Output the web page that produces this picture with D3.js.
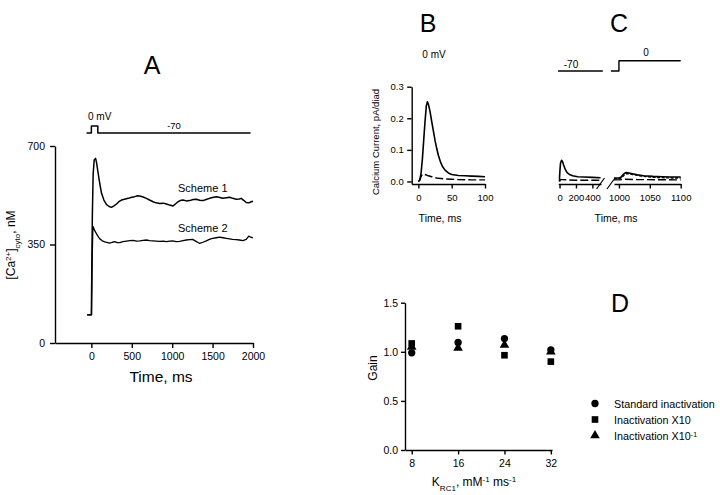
<!DOCTYPE html>
<html><head><meta charset="utf-8">
<script src="https://cdn.jsdelivr.net/npm/d3@7"></script>
<style>
body{margin:0;background:#fff}
svg{display:block}
text{font-family:"Liberation Sans",Arial,Helvetica,sans-serif;fill:#000}
</style>
</head><body><svg id="c" width="720" height="495"></svg>
<script>
// ---------- Panel A data ----------
const aTicksX = [0, 500, 1000, 1500, 2000];
const aTicksY = [0, 350, 700];
const scheme1Time = [-52,0,5,12,22,35,52,65,84,105,126,155,188,220,249,280,311,340,373,410,455,500,537,570,599,640,681,720,763,800,846,890,928,970,1010,1040,1072,1100,1133,1175,1216,1260,1299,1340,1380,1420,1463,1500,1546,1590,1627,1670,1710,1750,1793,1830,1854,1885,1916,1950,1978,2000];
const scheme1 = [100,100,250,450,600,650,656,640,603,565,532,508,492,485,482,487,494,502,508,511,514,518,520,523,522,519,514,508,502,498,496,497,494,490,487,494,502,506,508,505,506,510,511,507,506,510,514,517,520,517,514,516,518,514,511,512,514,507,499,498,502,504];
const scheme2Time = [-52,2,10,18,22,40,64,85,105,135,167,200,228,260,290,320,352,390,435,475,517,560,599,640,681,720,759,800,846,890,928,970,1006,1050,1093,1135,1175,1215,1253,1290,1320,1340,1380,1422,1460,1500,1545,1586,1630,1669,1710,1747,1790,1833,1875,1916,1948,1970,1998];
const scheme2 = [100,100,300,400,413,400,388,378,370,363,359,357,355,358,360,357,357,360,362,364,365,362,363,365,366,364,363,362,361,362,360,362,363,360,361,364,366,367,368,362,357,354,358,363,368,372,374,376,374,372,370,368,367,366,364,368,380,376,374];
const aVoltTime = [-60, 0, 0, 80, 80, 1970];
const aVolt = [-70, -70, 0, 0, -70, -70];

// ---------- Panel B data ----------
const bTicksX = [0, 50, 100];
const bTicksY = [0.0, 0.1, 0.2, 0.3];
const bTime = [0,2,4,6,8,10,12,13.5,15,17.5,20,22.5,25,27.5,30,33,36,40,45,50,60,70,80,90,100];
const bSolid = [0,0.005,0.025,0.07,0.13,0.19,0.24,0.252,0.245,0.222,0.19,0.16,0.13,0.105,0.083,0.063,0.048,0.036,0.027,0.022,0.019,0.018,0.017,0.016,0.015];
const bDashTime = [0,2,4,6,7.5,10,15,20,25,30,40,50,60,80,100];
const bDashed = [0,0.003,0.015,0.022,0.024,0.022,0.018,0.015,0.012,0.010,0.008,0.007,0.006,0.005,0.005];

// ---------- Panel C data ----------
const cTicksLeft = [0, 200, 400];
const cTicksRight = [1000, 1050, 1100];
const cLeftTime = [0,0,5,12,25,35,50,70,90,120,160,220,300,400,500];
const cLeftSolid = [0,0.01,0.035,0.058,0.067,0.064,0.052,0.038,0.029,0.022,0.018,0.015,0.014,0.013,0.012];
const cLeftDashTime = [0,10,30,100,200,500];
const cLeftDashed = [0,0.006,0.006,0.005,0.004,0.004];
const cRightTime = [992,1000,1003,1006,1009,1012,1016,1022,1030,1040,1055,1070,1085,1100];
const cRightSolid = [0.011,0.011,0.013,0.020,0.026,0.028,0.027,0.024,0.021,0.018,0.016,0.015,0.014,0.014];
const cRightSolid2 = [0.009,0.009,0.010,0.015,0.021,0.024,0.024,0.022,0.019,0.016,0.013,0.012,0.011,0.011];
const cRightDashTime = [992,1000,1010,1030,1100];
const cRightDashed = [0.005,0.005,0.007,0.006,0.005];
const cVoltLeftTime = [-18, 527];
const cVoltLeft = [-70, -70];
const cVoltRightTime = [987, 1000, 1000, 1100];
const cVoltRight = [-70, -70, 0, 0];

// ---------- Panel D data ----------
const dK = [8, 16, 24, 32];
const dTicksY = [0.0, 0.5, 1.0, 1.5];
const dStandard = [0.99, 1.095, 1.135, 1.02];
const dX10 = [1.085, 1.26, 0.965, 0.90];
const dX10inv = [1.05, 1.04, 1.07, 1.0];
const dLegend = ["Standard inactivation", "Inactivation X10", "Inactivation X10"];

const svg = d3.select("#c");
const FONT = '"Liberation Sans",Arial,Helvetica,sans-serif';
const fmtInt = d3.format("d");

function styleAxis(g, fs) {
  g.selectAll("path,line").attr("stroke", "#000").attr("stroke-width", 1.4);
  g.selectAll("text").attr("font-size", fs).attr("font-family", FONT).attr("fill", "#000");
}
function lineOf(x, y, ts, vs) {
  return d3.line().x(i => x(ts[i])).y(i => y(vs[i]))(d3.range(ts.length));
}
function path(d, dash, w) {
  const p = svg.append("path").attr("d", d).attr("fill", "none").attr("stroke", "#000")
    .attr("stroke-width", w || 1.5).attr("stroke-linejoin", "round");
  if (dash) p.attr("stroke-dasharray", dash);
  return p;
}

// ================= Panel A =================
const ax = d3.scaleLinear().domain([-450, 2000]).range([55, 253]);
const ay = d3.scaleLinear().domain([0, 700]).range([343, 146]);
svg.append("g").attr("transform", "translate(0,343)")
  .call(d3.axisBottom(ax).tickValues(aTicksX).tickFormat(fmtInt).tickSize(5).tickSizeOuter(0).tickPadding(5))
  .call(g => styleAxis(g, 10.5));
svg.append("g").attr("transform", "translate(55,0)")
  .call(d3.axisLeft(ay).tickValues(aTicksY).tickFormat(fmtInt).tickSize(5).tickSizeOuter(0).tickPadding(5))
  .call(g => styleAxis(g, 10.5));
path(lineOf(ax, ay, scheme1Time, scheme1), null, 1.5);
path(lineOf(ax, ay, scheme2Time, scheme2), null, 1.3);
const avy = d3.scaleLinear().domain([-70, 0]).range([133, 126]);
path(lineOf(ax, avy, aVoltTime, aVolt), null, 1.5);
svg.append("text").attr("x", 88).attr("y", 120).attr("font-size", 10).text("0 mV");
svg.append("text").attr("x", 174).attr("y", 129).attr("font-size", 9.5).attr("text-anchor", "middle").text("-70");
svg.append("text").attr("x", 178).attr("y", 191.5).attr("font-size", 11).text("Scheme 1");
svg.append("text").attr("x", 178).attr("y", 231.5).attr("font-size", 11).text("Scheme 2");
svg.append("text").attr("x", 152).attr("y", 73.5).attr("font-size", 25).attr("text-anchor", "middle").text("A");
svg.append("text").attr("x", 161).attr("y", 382).attr("font-size", 15.5).attr("text-anchor", "middle").text("Time, ms");
{
  const t = svg.append("text").attr("transform", "translate(15,245) rotate(-90)")
    .attr("font-size", 12).attr("text-anchor", "middle");
  t.append("tspan").text("[Ca");
  t.append("tspan").attr("font-size", 8).attr("baseline-shift", "super").text("2+");
  t.append("tspan").text("]");
  t.append("tspan").attr("font-size", 8).attr("baseline-shift", "sub").text("cyto");
  t.append("tspan").text(", nM");
}

// ================= Panel B =================
const bx = d3.scaleLinear().domain([-10, 100]).range([411.7, 485]);
const by = d3.scaleLinear().domain([-0.008, 0.3]).range([184, 86.7]);
svg.append("g").attr("transform", "translate(0,184)")
  .call(d3.axisBottom(bx).tickValues(bTicksX).tickFormat(fmtInt).tickSize(4.5).tickSizeOuter(0).tickPadding(6))
  .call(g => styleAxis(g, 9.5));
svg.append("g").attr("transform", "translate(411.7,0)")
  .call(d3.axisLeft(by).tickValues(bTicksY).tickFormat(d3.format(".1f")).tickSize(4.5).tickSizeOuter(0).tickPadding(3.5))
  .call(g => styleAxis(g, 9.5));
path(lineOf(bx, by, bTime, bSolid), null, 1.6);
path(lineOf(bx, by, bDashTime, bDashed), "8,3", 1.4);
svg.append("text").attr("x", 428).attr("y", 31.7).attr("font-size", 25).attr("text-anchor", "middle").text("B");
svg.append("text").attr("x", 434).attr("y", 58).attr("font-size", 10).attr("text-anchor", "middle").text("0 mV");
svg.append("text").attr("x", 440).attr("y", 222).attr("font-size", 10.5).attr("text-anchor", "middle").text("Time, ms");
svg.append("text").attr("transform", "translate(379,142) rotate(-90)").attr("font-size", 9.5)
  .attr("text-anchor", "middle").text("Calcium Current, pA/diad");

// ================= Panel C =================
const cxL = d3.scaleLinear().domain([-15, 505]).range([558.3, 601]);
const cxR = d3.scaleLinear().domain([992, 1100]).range([614, 680.7]);
const cy = by;
svg.append("g").attr("transform", "translate(0,184)")
  .call(d3.axisBottom(cxL).tickValues(cTicksLeft).tickFormat(fmtInt).tickSize(4.5).tickSizeOuter(0).tickPadding(6))
  .call(g => styleAxis(g, 9.5));
svg.append("g").attr("transform", "translate(0,184)")
  .call(d3.axisBottom(cxR).tickValues(cTicksRight).tickFormat(fmtInt).tickSize(4.5).tickSizeOuter(0).tickPadding(6))
  .call(g => styleAxis(g, 9.5));
// axis break slashes
[cxL.range()[1] - 0.5, cxR.range()[0] - 3].forEach(xc => {
  svg.append("line").attr("x1", xc - 4).attr("y1", 189).attr("x2", xc + 4).attr("y2", 178)
    .attr("stroke", "#000").attr("stroke-width", 1.2);
});
path(lineOf(cxL, cy, cLeftTime, cLeftSolid), null, 1.6);
path(lineOf(cxL, cy, cLeftDashTime, cLeftDashed), "8,3", 1.4);
path(lineOf(cxR, cy, cRightTime, cRightSolid), null, 1.6);
path(lineOf(cxR, cy, cRightTime, cRightSolid2), "3,1.5", 1.3);
path(lineOf(cxR, cy, cRightDashTime, cRightDashed), "8,3", 1.4);
const cvy = d3.scaleLinear().domain([-70, 0]).range([71, 60.7]);
path(lineOf(cxL, cvy, cVoltLeftTime, cVoltLeft), null, 1.4);
path(lineOf(cxR, cvy, cVoltRightTime, cVoltRight), null, 1.4);
svg.append("text").attr("x", 571).attr("y", 68).attr("font-size", 10).attr("text-anchor", "middle").text("-70");
svg.append("text").attr("x", 646).attr("y", 56).attr("font-size", 10).attr("text-anchor", "middle").text("0");
svg.append("text").attr("x", 619).attr("y", 31.7).attr("font-size", 25).attr("text-anchor", "middle").text("C");
svg.append("text").attr("x", 616).attr("y", 222).attr("font-size", 10.5).attr("text-anchor", "middle").text("Time, ms");

// ================= Panel D =================
const dx = d3.scaleLinear().domain([6.84, 32.2]).range([405, 552]);
const dy = d3.scaleLinear().domain([0, 1.5]).range([450, 302.7]);
svg.append("g").attr("transform", "translate(0,450)")
  .call(d3.axisBottom(dx).tickValues(dK).tickFormat(fmtInt).tickSize(4.5).tickSizeOuter(0).tickPadding(5))
  .call(g => styleAxis(g, 10.5));
svg.append("g").attr("transform", "translate(405,0)")
  .call(d3.axisLeft(dy).tickValues(dTicksY).tickFormat(d3.format(".1f")).tickSize(4).tickSizeOuter(0).tickPadding(3))
  .call(g => styleAxis(g, 10.5));
const symCircle = d3.symbol().type(d3.symbolCircle).size(42)();
const symSquare = d3.symbol().type(d3.symbolSquare).size(44)();
const symTri = d3.symbol().type(d3.symbolTriangle).size(40)();
function plotSeries(vals, sym) {
  svg.append("g").selectAll("path").data(dK).join("path")
    .attr("d", sym).attr("fill", "#000")
    .attr("transform", (k, i) => `translate(${dx(k)},${dy(vals[i])})`);
}
plotSeries(dX10inv, symTri);
plotSeries(dStandard, symCircle);
plotSeries(dX10, symSquare);
svg.append("text").attr("x", 620).attr("y", 311.7).attr("font-size", 25).attr("text-anchor", "middle").text("D");
svg.append("text").attr("transform", "translate(377,368) rotate(-90)").attr("font-size", 12)
  .attr("text-anchor", "middle").text("Gain");
{
  const t = svg.append("text").attr("x", 474).attr("y", 486).attr("font-size", 12).attr("text-anchor", "middle");
  t.append("tspan").text("K");
  t.append("tspan").attr("font-size", 8).attr("baseline-shift", "sub").text("RC1");
  t.append("tspan").text(", mM");
  t.append("tspan").attr("font-size", 8).attr("baseline-shift", "super").text("-1");
  t.append("tspan").text(" ms");
  t.append("tspan").attr("font-size", 8).attr("baseline-shift", "super").text("-1");
}
// legend
const legSyms = [symCircle, symSquare, symTri];
const legY = [403.5, 419.5, 435.5];
dLegend.forEach((lab, i) => {
  svg.append("path").attr("d", legSyms[i]).attr("fill", "#000")
    .attr("transform", `translate(595,${legY[i]})`);
  const t = svg.append("text").attr("x", 614).attr("y", legY[i] + 4).attr("font-size", 10.8).text(lab);
  if (i === 2) t.append("tspan").attr("font-size", 7).attr("baseline-shift", "super").text("-1");
});
</script></body></html>
